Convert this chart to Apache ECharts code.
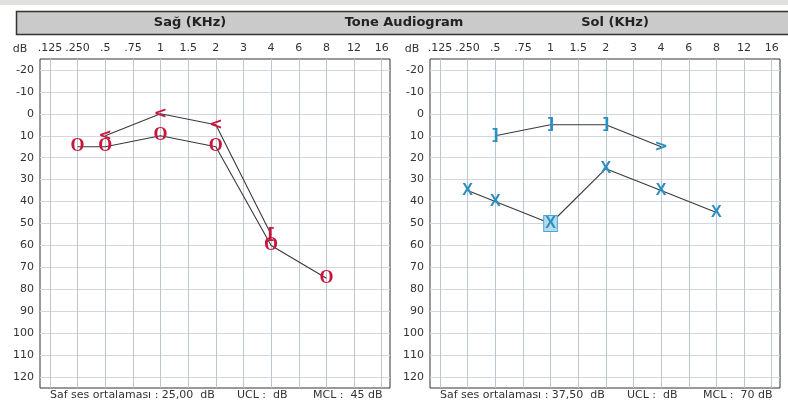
<!DOCTYPE html>
<html><head><meta charset="utf-8">
<script src="https://cdn.jsdelivr.net/npm/echarts@6/dist/echarts.min.js"></script>
<style>html,body{margin:0;padding:0;background:#fff}#c{width:788px;height:420px}</style>
</head><body><div id="c"></div>
<script>
// ---- data ----
const freqLabels = ['.125', '.250', '.5', '.75', '1', '1.5', '2', '3', '4', '6', '8', '12', '16'];
const dbTicks = [-20, -10, 0, 10, 20, 30, 40, 50, 60, 70, 80, 90, 100, 110, 120];

// Right ear (Sağ) air conduction
const rightAirFreq = ['.250', '.5', '1', '2', '4', '8'];
const rightAirDb = [15, 15, 10, 15, 60, 75];
const rightAirGlyph = ['O', 'O', 'O', 'O', 'O', 'O'];
// Right ear bone conduction
const rightBoneFreq = ['.5', '1', '2', '4'];
const rightBoneDb = [10, 0, 5, 55];
const rightBoneGlyph = ['<', '<', '<', '['];

// Left ear (Sol) air conduction
const leftAirFreq = ['.250', '.5', '1', '2', '4', '8'];
const leftAirDb = [35, 40, 50, 25, 35, 45];
const leftAirGlyph = ['X', 'X', 'X', 'X', 'X', 'X'];
const leftAirBoxed = [false, false, true, false, false, false];
// Left ear bone conduction
const leftBoneFreq = ['.5', '1', '2', '4'];
const leftBoneDb = [10, 5, 5, 15];
const leftBoneGlyph = [']', ']', ']', '>'];

const footerLeft = ['Saf ses ortalaması : 25,00  dB', 'UCL :  dB', 'MCL :  45 dB'];
const footerRight = ['Saf ses ortalaması : 37,50  dB', 'UCL :  dB', 'MCL :  70 dB'];

// ---- chart ----
const RED = '#c8163c', BLUE = '#2c8fc2';
const FONT = 'DejaVu Sans';
const chart = echarts.init(document.getElementById('c'));
const idxTicks = freqLabels.map((_, i) => i);

function xAx(gi) {
  return {
    type: 'value', gridIndex: gi, min: -0.36, max: 12.3, position: 'top',
    axisLine: {show: false},
    axisTick: {show: false, customValues: idxTicks},
    axisLabel: {customValues: idxTicks, formatter: v => freqLabels[Math.round(v)] || '',
      color: '#333', fontSize: 11, fontFamily: FONT, margin: 5},
    splitLine: {show: true, lineStyle: {color: '#bfc5d0', width: 1}}
  };
}
function yAx(gi) {
  return {
    type: 'value', gridIndex: gi, inverse: true, min: -25, max: 125,
    axisLine: {show: false},
    axisTick: {show: false, customValues: dbTicks},
    axisLabel: {customValues: dbTicks, color: '#333', fontSize: 11, fontFamily: FONT, margin: 6},
    splitLine: {show: true, lineStyle: {color: '#d3d7de', width: 1}}
  };
}
function mk(gi, freqs, dbs, glyphs, color, boxed, fontFamily, fontSize) {
  return {
    type: 'line', xAxisIndex: gi, yAxisIndex: gi, symbol: 'circle', symbolSize: 10,
    itemStyle: {color: 'rgba(0,0,0,0)'},
    lineStyle: {color: '#3a3a3a', width: 1.1},
    emphasis: {disabled: true}, animation: false, z: 3,
    data: freqs.map((f, i) => {
      const item = {value: [freqLabels.indexOf(f), dbs[i]]};
      if (boxed && boxed[i]) {
        item.label = {backgroundColor: '#b4dcec', borderColor: '#4aa6d6', borderWidth: 1, padding: [0, 1, -1, 1]};
      }
      return item;
    }),
    label: {show: true, position: 'inside', formatter: p => glyphs[p.dataIndex],
      color: color, fontSize: fontSize, fontWeight: 'bold', fontFamily: fontFamily}
  };
}
function footer(x0, texts) {
  const xs = [x0 + 10, x0 + 197, x0 + 273];
  return texts.map((t, i) => ({type: 'text', left: xs[i], top: 390,
    style: {text: t, fill: '#333', font: '11px "' + FONT + '"'}}));
}

chart.setOption({
  backgroundColor: '#fff',
  animation: false,
  grid: [
    {left: 40, top: 59, width: 350, height: 329, show: true, borderColor: '#333', borderWidth: 1, backgroundColor: 'transparent'},
    {left: 430, top: 59, width: 350, height: 329, show: true, borderColor: '#333', borderWidth: 1, backgroundColor: 'transparent'}
  ],
  xAxis: [xAx(0), xAx(1)],
  yAxis: [yAx(0), yAx(1)],
  series: [
    mk(0, rightAirFreq, rightAirDb, rightAirGlyph, RED, null, 'Liberation Serif', 18),
    mk(0, rightBoneFreq, rightBoneDb, rightBoneGlyph, RED, null, 'DejaVu Sans', 16),
    mk(1, leftAirFreq, leftAirDb, leftAirGlyph, BLUE, leftAirBoxed, 'Liberation Sans', 16),
    mk(1, leftBoneFreq, leftBoneDb, leftBoneGlyph, BLUE, null, 'DejaVu Sans', 16)
  ],
  graphic: [
    {type: 'rect', shape: {x: 0, y: 0, width: 788, height: 5}, style: {fill: '#e2dfdf'}},
    {type: 'rect', shape: {x: 16.5, y: 11.5, width: 780, height: 23}, style: {fill: '#cacaca', stroke: '#333', lineWidth: 1.5}},
    {type: 'text', x: 190, y: 23, style: {text: 'Sağ (KHz)', fill: '#222', font: 'bold 13px "' + FONT + '"', align: 'center', verticalAlign: 'middle'}},
    {type: 'text', x: 404, y: 23, style: {text: 'Tone Audiogram', fill: '#222', font: 'bold 13px "' + FONT + '"', align: 'center', verticalAlign: 'middle'}},
    {type: 'text', x: 615, y: 23, style: {text: 'Sol (KHz)', fill: '#222', font: 'bold 13px "' + FONT + '"', align: 'center', verticalAlign: 'middle'}},
    {type: 'text', x: 20, y: 49, style: {text: 'dB', fill: '#333', font: '11px "' + FONT + '"', align: 'center', verticalAlign: 'middle'}},
    {type: 'text', x: 412, y: 49, style: {text: 'dB', fill: '#333', font: '11px "' + FONT + '"', align: 'center', verticalAlign: 'middle'}}
  ].concat(footer(40, footerLeft), footer(430, footerRight))
});
</script></body></html>
